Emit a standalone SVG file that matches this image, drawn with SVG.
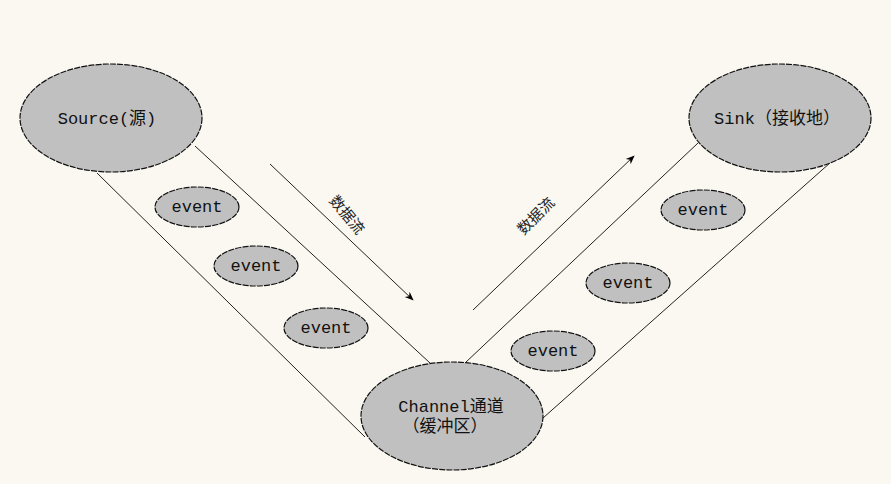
<svg xmlns="http://www.w3.org/2000/svg" width="891" height="484" viewBox="0 0 891 484">
<defs>
<marker id="ah" viewBox="0 0 10 10" refX="9" refY="5" markerWidth="9" markerHeight="9" markerUnits="userSpaceOnUse" orient="auto">
<path d="M0,1 L10,5 L0,9 L3,5 Z" fill="#000"/>
</marker>
</defs>
<style>
.node{fill:#c0c0c0;stroke:#111;stroke-width:1.2;stroke-dasharray:6 1.2}
.t{font-family:"Liberation Mono","Noto Sans CJK SC",monospace;font-size:17px;fill:#111}
.line{stroke:#222;stroke-width:1;fill:none}
.lbl{font-family:"Noto Sans CJK SC",sans-serif;font-size:15px;fill:#222}
</style>
<rect width="891" height="484" fill="#faf8f1"/>
<g id="connectors">
<line class="line" x1="97" y1="173" x2="365" y2="437"/>
<line class="line" x1="195" y1="146" x2="430" y2="363"/>
<line class="line" x1="465" y1="363" x2="698" y2="143"/>
<line class="line" x1="543" y1="418" x2="831" y2="162"/>
<line class="line" x1="270" y1="164" x2="413" y2="300" marker-end="url(#ah)"/>
<line class="line" x1="473" y1="310" x2="634" y2="156" marker-end="url(#ah)"/>
<text class="lbl" transform="translate(348,214) rotate(50)" text-anchor="middle" dominant-baseline="central">数据流</text>
<text class="lbl" transform="translate(535,215) rotate(-45)" text-anchor="middle" dominant-baseline="central">数据流</text>
</g>
<g id="source">
<ellipse class="node" cx="111" cy="118" rx="91" ry="54"/>
<text class="t" x="107" y="124" text-anchor="middle">Source(源)</text>
</g>
<g id="sink">
<ellipse class="node" cx="780" cy="118" rx="91" ry="54"/>
<text class="t" x="777" y="124" text-anchor="middle">Sink（接收地）</text>
</g>
<g id="channel">
<ellipse class="node" cx="452" cy="416" rx="91" ry="54"/>
<text class="t" x="451" y="412" text-anchor="middle">Channel通道</text>
<text class="t" x="445" y="432" text-anchor="middle">（缓冲区）</text>
</g>
<g id="event1">
<ellipse class="node" cx="197" cy="207" rx="42" ry="20"/>
<text class="t" x="197" y="212" text-anchor="middle">event</text>
</g>
<g id="event2">
<ellipse class="node" cx="256" cy="266" rx="42" ry="20"/>
<text class="t" x="256" y="271" text-anchor="middle">event</text>
</g>
<g id="event3">
<ellipse class="node" cx="326" cy="328" rx="42" ry="20"/>
<text class="t" x="326" y="333" text-anchor="middle">event</text>
</g>
<g id="event4">
<ellipse class="node" cx="703" cy="210" rx="42" ry="20"/>
<text class="t" x="703" y="215" text-anchor="middle">event</text>
</g>
<g id="event5">
<ellipse class="node" cx="628" cy="283" rx="42" ry="20"/>
<text class="t" x="628" y="288" text-anchor="middle">event</text>
</g>
<g id="event6">
<ellipse class="node" cx="553" cy="351" rx="42" ry="20"/>
<text class="t" x="553" y="356" text-anchor="middle">event</text>
</g>
</svg>
